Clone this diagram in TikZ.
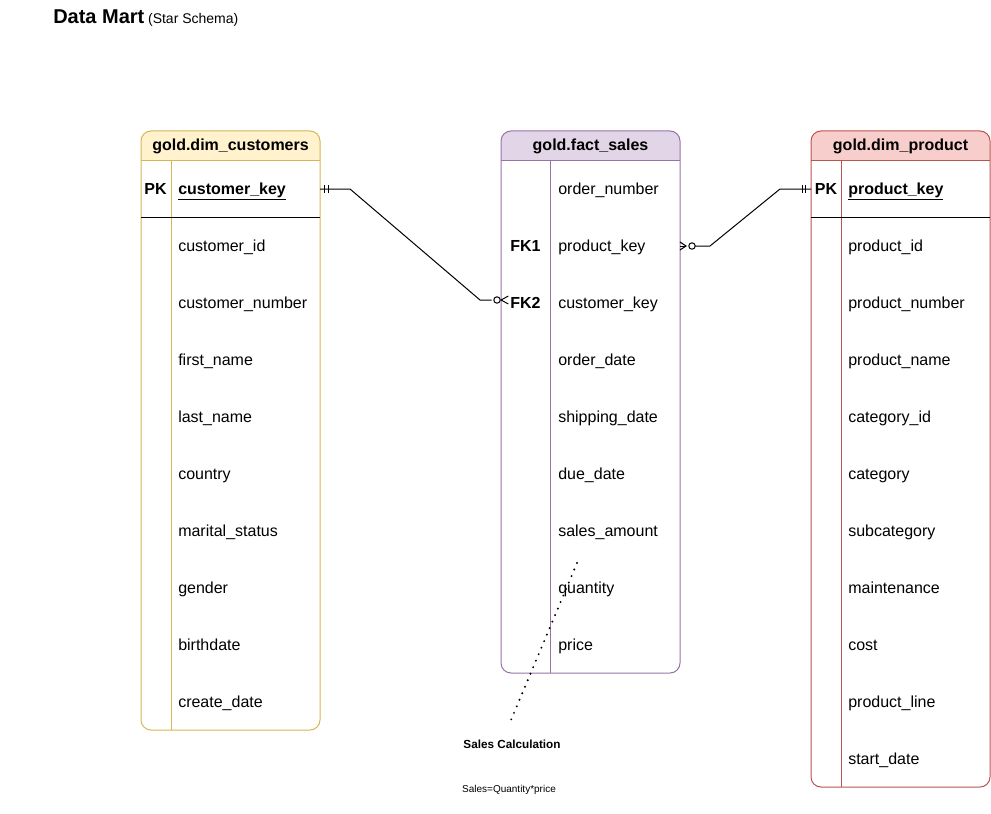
\documentclass[tikz,border=0pt]{standalone}
\usepackage{fontspec}
\setmainfont{Liberation Sans}
\definecolor{cyb}{HTML}{D6B656}\definecolor{cyf}{HTML}{FFF2CC}
\definecolor{fpb}{HTML}{9673A6}\definecolor{fpf}{HTML}{E1D5E7}
\definecolor{prb}{HTML}{B85450}\definecolor{prf}{HTML}{F8CECC}
\newcommand\myul[1]{\underline{#1}}
\tikzset{
  fld/.style={anchor=base west, inner sep=0pt, font=\fontsize{12}{14}\selectfont},
  keyfld/.style={anchor=base west, inner sep=0pt, font=\fontsize{12}{14}\selectfont\bfseries},
  keytag/.style={anchor=base, inner sep=0pt, font=\fontsize{12}{14}\selectfont\bfseries},
  hdr/.style={anchor=base, inner sep=0pt, font=\fontsize{12}{14}\selectfont\bfseries},
  tblline/.style={line width=0.75pt},
  conn/.style={line width=0.75pt, black},
  dotline/.style={line width=1.6pt, line cap=round, dash pattern=on 0pt off 5.3pt},
}
\begin{document}
\begin{tikzpicture}[x=0.75pt,y=-0.75pt]
\useasboundingbox (0,0) rectangle (991,813);
% title
\node[anchor=base west, inner sep=0pt] (title) at (53,24)
  {{\fontsize{15}{18}\selectfont\bfseries Data Mart} {\fontsize{10.5}{13}\selectfont (Star Schema)}};

% ---------- gold.dim_customers ----------
\fill[cyf] (141,160) [rounded corners=7.5pt] -- (141,131) -- (320,131) [sharp corners] -- (320,160) -- cycle;
\draw[cyb, tblline, rounded corners=7.5pt] (141,131) rectangle (320,730);
\draw[cyb, tblline] (141,160) -- (320,160);
\draw[cyb, tblline] (171,160) -- (171,730);
\draw[black, tblline] (141,217) -- (320,217);
\node[hdr] (custhdr) at (230.5,151) {gold.dim\_customers};
\node[keytag] (custpk) at (155.5,194.5) {PK};
\node[keyfld] (custkey) at (178,194.5) {\myul{customer\_key}};
\foreach \t [count=\i] in {customer\_id, customer\_number, first\_name, last\_name, country, marital\_status, gender, birthdate, create\_date}
  \node[fld] (cf\i) at (178,{194.5+57*\i}) {\t};
\coordinate (custE) at (320,189);

% ---------- gold.fact_sales ----------
\fill[fpf] (501,160) [rounded corners=7.5pt] -- (501,131) -- (680,131) [sharp corners] -- (680,160) -- cycle;
\draw[fpb, tblline, rounded corners=7.5pt] (501,131) rectangle (680,673);
\draw[fpb, tblline] (501,160) -- (680,160);
\draw[fpb, tblline] (550,160) -- (550,673);
\node[hdr] (facthdr) at (590.5,151) {gold.fact\_sales};
\node[keyfld] (fk1) at (510,251.5) {FK1};
\node[keyfld] (fk2) at (510,308.5) {FK2};
\foreach \t [count=\i from 0] in {order\_number, product\_key, customer\_key, order\_date, shipping\_date, due\_date, sales\_amount, quantity, price}
  \node[fld] (ff\i) at (558,{194.5+57*\i}) {\t};
\coordinate (factW) at (501,300);
\coordinate (factE) at (680,246);

% ---------- gold.dim_product ----------
\fill[prf] (811,160) [rounded corners=7.5pt] -- (811,131) -- (990,131) [sharp corners] -- (990,160) -- cycle;
\draw[prb, tblline, rounded corners=7.5pt] (811,131) rectangle (990,787);
\draw[prb, tblline] (811,160) -- (990,160);
\draw[prb, tblline] (841,160) -- (841,787);
\draw[black, tblline] (811,217) -- (990,217);
\node[hdr] (prodhdr) at (900.5,151) {gold.dim\_product};
\node[keytag] (prodpk) at (826,194.5) {PK};
\node[keyfld] (prodkey) at (848,194.5) {\myul{product\_key}};
\foreach \t [count=\i] in {product\_id, product\_number, product\_name, category\_id, category, subcategory, maintenance, cost, product\_line, start\_date}
  \node[fld] (pf\i) at (848,{194.5+57*\i}) {\t};
\coordinate (prodW) at (811,189);

% ---------- connector customers -> fact ----------
\draw[conn] (custE) -- ++(30,0) -- (480,300) -- ([xshift=-7pt]factW);
\draw[conn] ([xshift=3pt]custE) ++(0,-4) -- ++(0,8);
\draw[conn] ([xshift=6pt]custE) ++(0,-4) -- ++(0,8);
\draw[conn, fill=white] ([xshift=-3pt]factW) circle (2.4pt);
\draw[conn] ([xshift=5.5pt,yshift=3pt]factW) -- (factW) -- ([xshift=5.5pt,yshift=-3pt]factW);

% ---------- connector product -> fact ----------
\draw[conn] (prodW) -- ++(-31,0) -- (710,246) -- ([xshift=10pt]factE);
\draw[conn] ([xshift=-6.5pt]prodW) ++(0,-4) -- ++(0,8);
\draw[conn] ([xshift=-4.5pt]prodW) ++(0,-4) -- ++(0,8);
\draw[conn] (factE) ++(0,-4) -- ([xshift=4.5pt]factE) -- ++(-6,4);
\draw[conn] ([xshift=4.5pt]factE) -- (factE);
\draw[conn, fill=white] ([xshift=9pt]factE) circle (2.4pt);

% ---------- sales calculation note ----------
\node[inner sep=0pt, font=\fontsize{8.8}{10}\selectfont\bfseries] (calc) at (512,744) {Sales Calculation};
\node[inner sep=0pt, font=\fontsize{7.5}{9}\selectfont] (formula) at (509,790) {Sales=Quantity*price};
\coordinate (dotA) at (577,563);
\coordinate (dotB) at (511,720);
\draw[dotline] (dotA) -- (dotB);
\end{tikzpicture}
\end{document}
